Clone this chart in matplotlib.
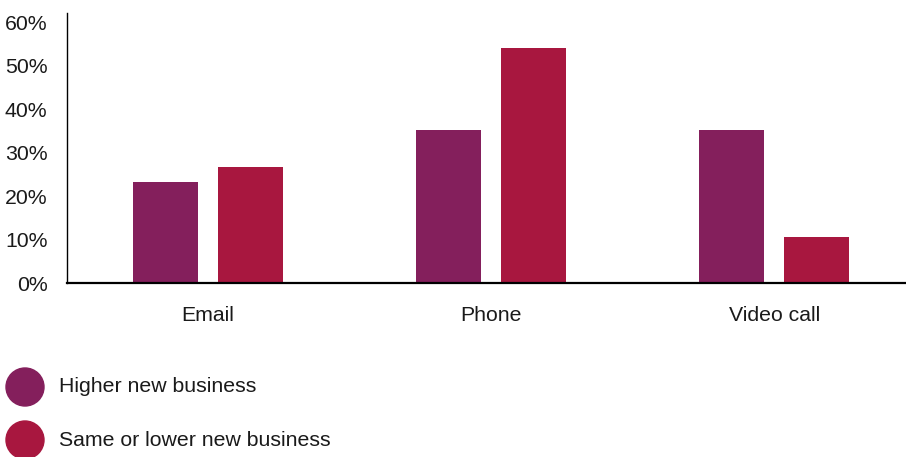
import numpy as np
import matplotlib.pyplot as plt
from matplotlib.patches import Ellipse

# survey shares by contact channel (%)
channels = ["Email", "Phone", "Video call"]
series_names = ["Higher new business", "Same or lower new business"]
higher = [23.3, 35.2, 35.2]
same_or_lower = [26.7, 54.0, 10.7]
colors = ["#841F5C", "#A8173F"]

plt.rcParams['font.family'] = ['Liberation Sans', 'DejaVu Sans']

W, H = 906, 457
fig = plt.figure(figsize=(W / 100, H / 100), dpi=100)
ax = fig.add_axes([0.074, 0.3797, 0.926, 0.5919])

x = np.arange(len(channels))
width = 0.229
offset = 0.15
ax.bar(x - offset, higher, width, color=colors[0])
ax.bar(x + offset, same_or_lower, width, color=colors[1])

ax.set_xlim(-0.497, 2.465)
ax.set_ylim(0, 62.1)
ax.set_yticks(range(0, 61, 10))
ax.set_yticklabels([f"{v}%" for v in range(0, 61, 10)])
ax.set_xticks(x)
ax.set_xticklabels(channels)
ax.tick_params(axis='both', length=0, labelsize=15.3, colors='#1a1a1a')
ax.tick_params(axis='y', pad=14)
ax.tick_params(axis='x', pad=16)

for side in ['top', 'right']:
    ax.spines[side].set_visible(False)
ax.spines['left'].set_linewidth(1.0)
ax.spines['bottom'].set_linewidth(1.6)

# legend drawn as filled circles with labels beneath the chart
legend_y = [1 - 387 / H, 1 - 440 / H]
for name, col, yy in zip(series_names, colors, legend_y):
    fig.add_artist(Ellipse((25 / W, yy), 38 / W, 38 / H, color=col,
                           transform=fig.transFigure))
    fig.text(59 / W, yy, name, fontsize=15.3, va='center', ha='left', color='#1a1a1a')

fig.savefig("out.png", dpi=100)
